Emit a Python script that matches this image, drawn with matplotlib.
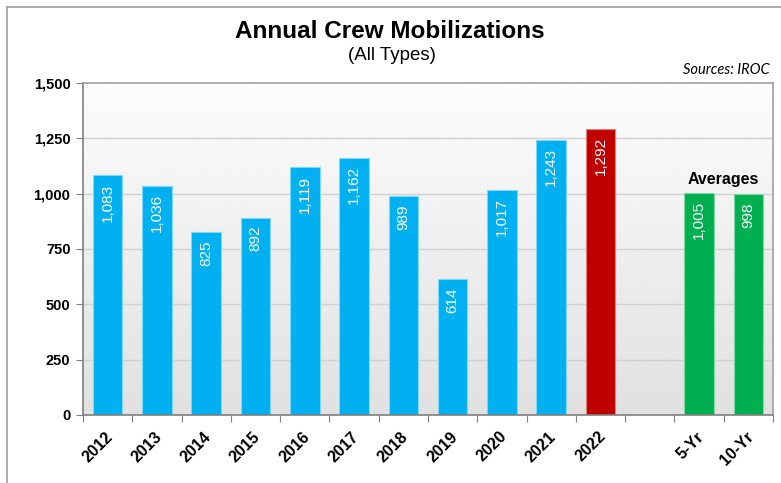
import matplotlib
matplotlib.use("Agg")
import matplotlib.pyplot as plt
import numpy as np
from matplotlib.lines import Line2D

plt.rcParams['font.family'] = ['Liberation Sans', 'DejaVu Sans']

categories = ["2012", "2013", "2014", "2015", "2016", "2017", "2018", "2019",
              "2020", "2021", "2022", "", "5-Yr", "10-Yr"]
values = [1083, 1036, 825, 892, 1119, 1162, 989, 614, 1017, 1243, 1292, None, 1005, 998]
labels = ["1,083", "1,036", "825", "892", "1,119", "1,162", "989", "614",
          "1,017", "1,243", "1,292", "", "1,005", "998"]
kinds = ["year"] * 10 + ["current", "gap", "avg", "avg"]
yticks = [0, 250, 500, 750, 1000, 1250, 1500]
ytick_labels = ["0", "250", "500", "750", "1,000", "1,250", "1,500"]

colors = {"year": "#00B0F0", "current": "#C00000", "avg": "#00B050", "gap": "none"}
edges = {"year": "#7FD7F7", "current": "#E08080", "avg": "#7FD7A7", "gap": "none"}

fig = plt.figure(figsize=(7.81, 4.83), dpi=100)
ax = fig.add_axes([83/781, 1-415/483, 690/781, 332/483])

n = len(categories)
ax.set_xlim(0, n)
ax.set_ylim(0, 1500)

# gradient background
grad = np.linspace(0.88, 0.99, 256).reshape(-1, 1)
ax.imshow(grad, extent=[0, n, 0, 1500], aspect='auto', origin='lower',
          cmap='gray', vmin=0, vmax=1, zorder=0)

for y in yticks[1:-1]:
    ax.axhline(y, color='#d0d0d0', lw=1.0, zorder=1)

x = np.arange(n) + 0.5
for xi, v, lab, k in zip(x, values, labels, kinds):
    if v is None:
        continue
    ax.bar(xi, v, width=0.6, color=colors[k], edgecolor=edges[k], lw=0.8, zorder=2)
    ax.annotate(lab, (xi, v), xytext=(0, -6), textcoords='offset points',
                rotation=90, ha='center', va='top', color='white', fontsize=11, zorder=3)

ax.text((x[12] + x[13]) / 2, 1065, "Averages", ha='center', va='center',
        fontsize=11.5, fontweight='bold', zorder=3)

ax.set_yticks(yticks)
ax.set_yticklabels(ytick_labels, fontsize=10.5, fontweight='bold')
ax.set_xticks(np.arange(n + 1), minor=False)
ax.set_xticklabels([])
ax.set_xticks(x, minor=True)
ax.set_xticklabels(categories, minor=True, rotation=45, ha='right', va='top',
                   rotation_mode='anchor', fontsize=11.5, fontweight='bold')
ax.tick_params(axis='x', which='minor', length=0, pad=10)
ax.tick_params(axis='x', which='major', length=5, color='#808080', direction='out')
ax.tick_params(axis='y', length=5, color='#808080', direction='out', pad=4)
for lbl in ax.get_xticklabels(minor=True):
    lbl.set_transform(lbl.get_transform() + matplotlib.transforms.ScaledTranslation(-2/72, 0, fig.dpi_scale_trans))

ax.spines['left'].set_color('#808080')
ax.spines['bottom'].set_color('#808080')
ax.spines['right'].set_color('#a0a0a0')
ax.spines['top'].set_color('#a0a0a0')
for s in ax.spines.values():
    s.set_linewidth(1.2)

fig.text(390/781, 1-31/483, "Annual Crew Mobilizations", ha='center', va='center',
         fontsize=17.5, fontweight='bold')
fig.text(392/781, 1-56/483, "(All Types)", ha='center', va='center', fontsize=13.5)
fig.text(770/781, 1-70/483, "Sources: IROC", ha='right', va='center', fontsize=10.5,
         style='italic', family=['Lato', 'DejaVu Sans'])

# figure border
fig.add_artist(Line2D([7/781, 7/781], [0, 1-7/483], color='#a0a0a0', lw=1.2, transform=fig.transFigure))
fig.add_artist(Line2D([7/781, 1], [1-7/483, 1-7/483], color='#a0a0a0', lw=1.2, transform=fig.transFigure))

fig.savefig("out.png", dpi=100)
